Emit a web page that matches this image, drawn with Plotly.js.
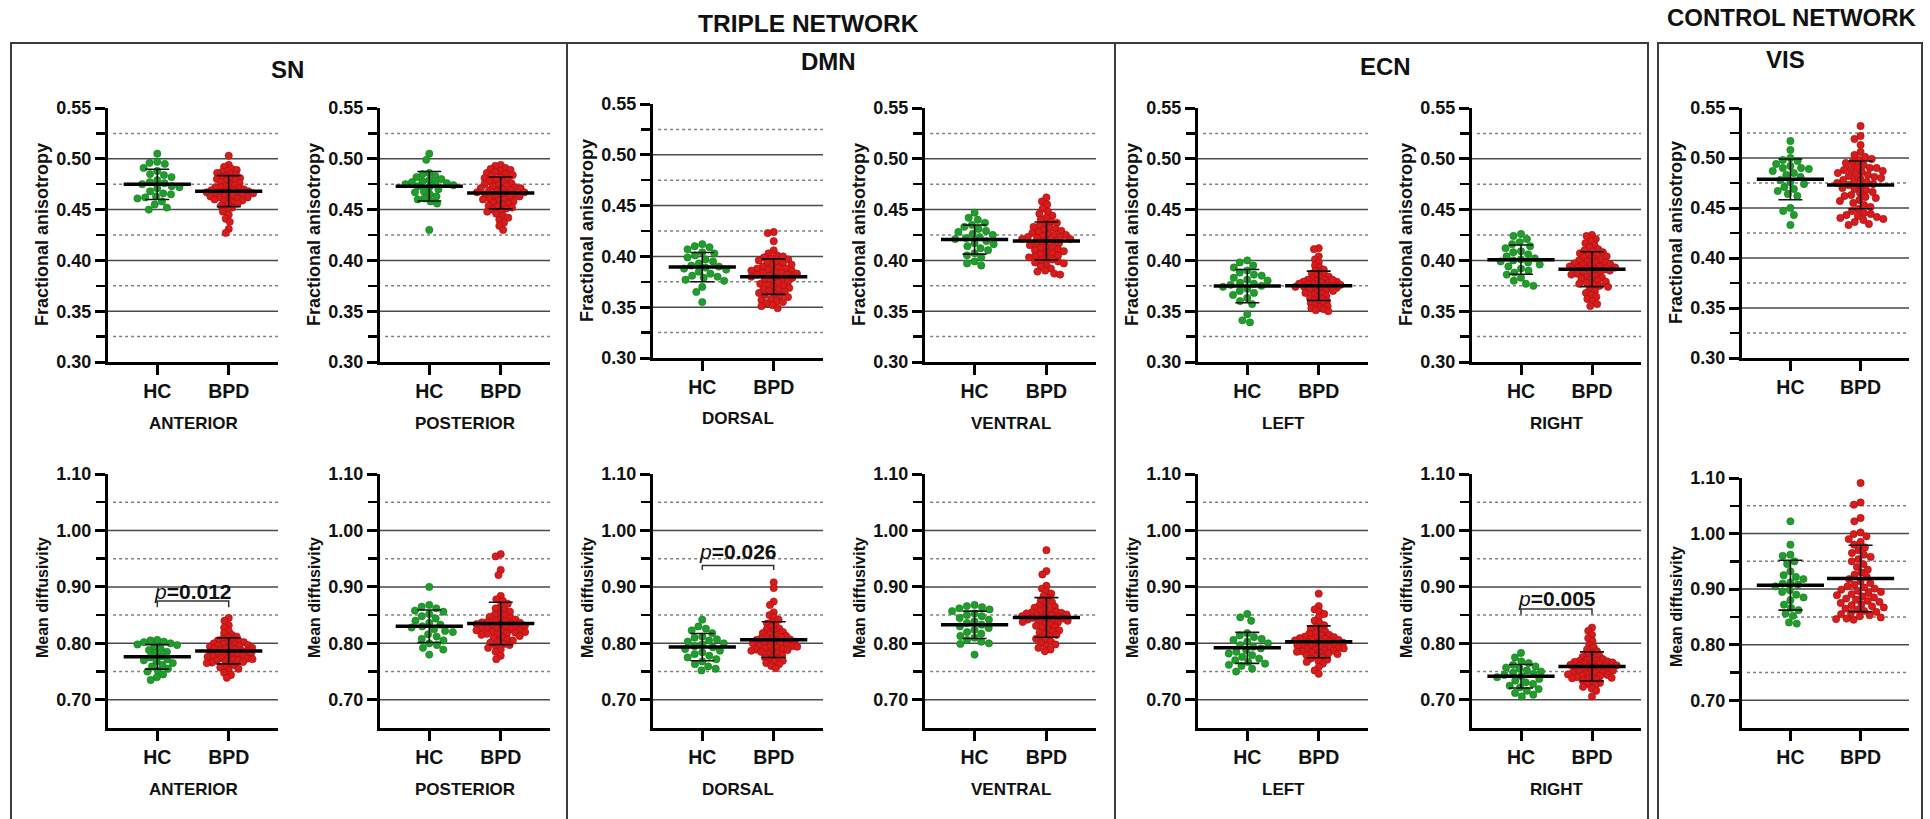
<!DOCTYPE html>
<html><head><meta charset="utf-8">
<script src="https://cdn.plot.ly/plotly-3.0.1.min.js"></script>
<style>html,body{margin:0;padding:0;background:#fff}#chart{width:1930px;height:819px}</style>
</head><body><div id="chart"></div>
<script>
// ---------- categories / labels ----------
const groups = ['HC', 'BPD'];
const regions = ['ANTERIOR', 'POSTERIOR', 'DORSAL', 'VENTRAL', 'LEFT', 'RIGHT', ''];
const networkTitles = ['SN', 'DMN', 'ECN', 'VIS'];
const sectionTitles = ['TRIPLE NETWORK', 'CONTROL NETWORK'];
const faTitle = 'Fractional anisotropy';
const mdTitle = 'Mean diffusivity';
const faTickVals = [0.30, 0.35, 0.40, 0.45, 0.50, 0.55];
const faTickText = ['0.30', '0.35', '0.40', '0.45', '0.50', '0.55'];
const faMinor = [0.325, 0.375, 0.425, 0.475, 0.525];
const mdTickVals = [0.70, 0.80, 0.90, 1.00, 1.10];
const mdTickText = ['0.70', '0.80', '0.90', '1.00', '1.10'];
const mdMinor = [0.75, 0.85, 0.95, 1.05];

// ---------- Fractional anisotropy ----------
const fa_SN_ant_HC = [0.505,0.497,0.496,0.495,0.491,0.488,0.485,0.484,0.482,0.479,0.477,0.476,0.475,0.473,0.472,0.471,0.468,0.466,0.465,0.463,0.462,0.461,0.458,0.455,0.452,0.450];
const fa_SN_ant_BPD = [0.503,0.494,0.492,0.490,0.489,0.488,0.487,0.486,0.485,0.484,0.483,0.482,0.481,0.480,0.480,0.479,0.478,0.477,0.476,0.475,0.474,0.473,0.472,0.472,0.471,0.470,0.470,0.469,0.469,0.468,0.468,0.467,0.467,0.466,0.466,0.465,0.465,0.464,0.464,0.463,0.463,0.462,0.462,0.461,0.460,0.460,0.459,0.458,0.457,0.456,0.455,0.454,0.452,0.450,0.448,0.445,0.441,0.438,0.431,0.427];
const fa_SN_post_HC = [0.505,0.499,0.486,0.485,0.483,0.482,0.480,0.479,0.478,0.477,0.476,0.476,0.475,0.474,0.473,0.472,0.470,0.468,0.467,0.465,0.463,0.461,0.460,0.458,0.456,0.430];
const fa_SN_post_BPD = [0.494,0.493,0.491,0.490,0.489,0.488,0.487,0.486,0.485,0.484,0.483,0.482,0.481,0.480,0.479,0.478,0.477,0.476,0.475,0.474,0.473,0.473,0.472,0.471,0.471,0.470,0.469,0.469,0.468,0.467,0.467,0.466,0.465,0.465,0.464,0.463,0.463,0.462,0.461,0.460,0.460,0.459,0.458,0.457,0.456,0.455,0.454,0.453,0.452,0.451,0.450,0.449,0.448,0.446,0.444,0.442,0.440,0.437,0.434,0.430];
const fa_DMN_dor_HC = [0.412,0.410,0.409,0.407,0.404,0.403,0.401,0.399,0.397,0.395,0.393,0.391,0.390,0.389,0.388,0.387,0.385,0.383,0.381,0.380,0.379,0.377,0.376,0.370,0.365,0.355];
const fa_DMN_dor_BPD = [0.424,0.423,0.415,0.406,0.403,0.401,0.400,0.399,0.398,0.397,0.396,0.395,0.394,0.393,0.392,0.391,0.390,0.389,0.388,0.388,0.387,0.386,0.386,0.385,0.384,0.384,0.383,0.382,0.382,0.381,0.380,0.380,0.379,0.378,0.377,0.376,0.375,0.374,0.373,0.372,0.371,0.370,0.369,0.368,0.367,0.366,0.365,0.364,0.363,0.362,0.361,0.360,0.358,0.357,0.356,0.355,0.354,0.352,0.351,0.349];
const fa_DMN_ven_HC = [0.447,0.442,0.440,0.437,0.435,0.433,0.431,0.429,0.428,0.426,0.425,0.423,0.422,0.421,0.419,0.417,0.416,0.414,0.412,0.410,0.407,0.405,0.403,0.399,0.397,0.395];
const fa_DMN_ven_BPD = [0.462,0.458,0.455,0.451,0.448,0.446,0.444,0.442,0.440,0.438,0.437,0.436,0.434,0.433,0.432,0.431,0.430,0.429,0.428,0.427,0.426,0.425,0.425,0.424,0.423,0.423,0.422,0.421,0.421,0.420,0.419,0.418,0.417,0.416,0.415,0.414,0.413,0.412,0.411,0.410,0.409,0.408,0.407,0.406,0.405,0.404,0.403,0.402,0.401,0.400,0.399,0.398,0.397,0.396,0.394,0.392,0.390,0.389,0.387,0.386];
const fa_ECN_left_HC = [0.400,0.398,0.395,0.393,0.390,0.388,0.386,0.385,0.383,0.381,0.380,0.378,0.377,0.376,0.375,0.374,0.372,0.370,0.368,0.366,0.363,0.360,0.357,0.347,0.341,0.339];
const fa_ECN_left_BPD = [0.412,0.411,0.404,0.401,0.398,0.395,0.393,0.391,0.390,0.388,0.387,0.386,0.385,0.384,0.383,0.382,0.381,0.381,0.380,0.379,0.379,0.378,0.378,0.377,0.377,0.376,0.376,0.375,0.375,0.374,0.374,0.373,0.373,0.372,0.372,0.371,0.370,0.370,0.369,0.368,0.367,0.366,0.365,0.364,0.363,0.362,0.361,0.360,0.359,0.358,0.357,0.356,0.355,0.354,0.353,0.352,0.351,0.350,0.381,0.376];
const fa_ECN_right_HC = [0.426,0.424,0.421,0.418,0.416,0.414,0.412,0.409,0.408,0.406,0.404,0.402,0.401,0.400,0.399,0.398,0.396,0.394,0.392,0.390,0.388,0.386,0.383,0.380,0.377,0.375];
const fa_ECN_right_BPD = [0.425,0.424,0.421,0.419,0.417,0.415,0.413,0.411,0.410,0.409,0.408,0.407,0.406,0.405,0.404,0.403,0.402,0.401,0.400,0.399,0.398,0.398,0.397,0.396,0.396,0.395,0.394,0.394,0.393,0.393,0.392,0.391,0.391,0.390,0.389,0.388,0.388,0.387,0.386,0.385,0.384,0.383,0.382,0.381,0.380,0.379,0.378,0.377,0.376,0.375,0.374,0.372,0.370,0.368,0.366,0.364,0.362,0.360,0.357,0.355];
const fa_VIS_HC = [0.517,0.508,0.500,0.498,0.497,0.494,0.492,0.490,0.490,0.489,0.487,0.485,0.483,0.481,0.478,0.476,0.474,0.471,0.469,0.467,0.464,0.462,0.450,0.447,0.443,0.433];
const fa_VIS_BPD = [0.532,0.522,0.519,0.513,0.506,0.503,0.501,0.499,0.498,0.496,0.495,0.493,0.491,0.490,0.490,0.489,0.488,0.487,0.486,0.485,0.484,0.483,0.482,0.481,0.480,0.479,0.478,0.477,0.476,0.475,0.474,0.473,0.472,0.470,0.469,0.468,0.466,0.465,0.463,0.462,0.460,0.458,0.457,0.455,0.453,0.451,0.449,0.447,0.445,0.444,0.443,0.442,0.441,0.440,0.439,0.438,0.436,0.434,0.433,0.461];

// ---------- Mean diffusivity ----------
const md_SN_ant_HC = [0.806,0.805,0.803,0.802,0.800,0.798,0.797,0.795,0.790,0.788,0.785,0.783,0.777,0.775,0.772,0.770,0.768,0.765,0.762,0.759,0.755,0.752,0.750,0.745,0.740,0.735];
const md_SN_ant_BPD = [0.845,0.840,0.832,0.828,0.822,0.818,0.815,0.812,0.810,0.808,0.806,0.805,0.804,0.802,0.801,0.800,0.799,0.798,0.797,0.796,0.795,0.794,0.793,0.792,0.791,0.790,0.789,0.788,0.787,0.786,0.785,0.784,0.783,0.782,0.781,0.780,0.779,0.778,0.777,0.776,0.775,0.774,0.773,0.772,0.771,0.770,0.769,0.768,0.767,0.766,0.765,0.763,0.761,0.759,0.757,0.755,0.752,0.748,0.744,0.739];
const md_SN_post_HC = [0.900,0.868,0.865,0.862,0.858,0.856,0.852,0.848,0.844,0.840,0.836,0.833,0.830,0.828,0.825,0.822,0.820,0.816,0.812,0.808,0.805,0.800,0.797,0.792,0.789,0.780];
const md_SN_post_BPD = [0.958,0.954,0.930,0.921,0.884,0.878,0.875,0.870,0.866,0.862,0.859,0.856,0.853,0.851,0.849,0.847,0.845,0.843,0.842,0.840,0.839,0.838,0.837,0.836,0.835,0.834,0.833,0.832,0.831,0.830,0.829,0.828,0.827,0.826,0.825,0.824,0.823,0.822,0.821,0.820,0.819,0.818,0.817,0.816,0.815,0.813,0.811,0.809,0.807,0.805,0.803,0.801,0.799,0.797,0.795,0.792,0.789,0.785,0.778,0.772];
const md_DMN_dor_HC = [0.842,0.830,0.826,0.823,0.818,0.812,0.810,0.807,0.805,0.803,0.800,0.798,0.795,0.793,0.790,0.787,0.784,0.781,0.778,0.775,0.772,0.768,0.763,0.759,0.755,0.752];
const md_DMN_dor_BPD = [0.908,0.898,0.874,0.868,0.855,0.850,0.846,0.842,0.838,0.835,0.832,0.829,0.826,0.824,0.822,0.820,0.818,0.816,0.814,0.813,0.811,0.810,0.809,0.808,0.807,0.806,0.805,0.804,0.803,0.802,0.801,0.800,0.799,0.798,0.797,0.796,0.795,0.794,0.793,0.792,0.791,0.790,0.789,0.788,0.787,0.786,0.785,0.783,0.781,0.779,0.777,0.775,0.773,0.771,0.769,0.767,0.765,0.763,0.760,0.756];
const md_DMN_ven_HC = [0.868,0.866,0.864,0.862,0.860,0.857,0.853,0.850,0.848,0.845,0.842,0.839,0.836,0.833,0.830,0.827,0.824,0.820,0.817,0.813,0.810,0.806,0.803,0.800,0.799,0.780];
const md_DMN_ven_BPD = [0.965,0.928,0.922,0.902,0.897,0.892,0.888,0.884,0.880,0.876,0.873,0.870,0.867,0.865,0.863,0.861,0.859,0.857,0.856,0.855,0.854,0.853,0.852,0.851,0.850,0.849,0.848,0.847,0.846,0.845,0.844,0.843,0.842,0.841,0.840,0.839,0.838,0.837,0.835,0.833,0.831,0.829,0.827,0.825,0.823,0.821,0.819,0.817,0.815,0.812,0.810,0.808,0.805,0.803,0.800,0.798,0.795,0.792,0.789,0.786];
const md_ECN_left_HC = [0.852,0.846,0.840,0.818,0.814,0.811,0.808,0.806,0.803,0.800,0.797,0.794,0.791,0.788,0.785,0.782,0.779,0.776,0.773,0.770,0.767,0.764,0.762,0.760,0.755,0.750];
const md_ECN_left_BPD = [0.888,0.866,0.860,0.856,0.852,0.846,0.840,0.836,0.832,0.829,0.826,0.823,0.821,0.819,0.817,0.815,0.814,0.812,0.811,0.810,0.809,0.808,0.807,0.806,0.805,0.804,0.803,0.802,0.801,0.800,0.799,0.798,0.797,0.796,0.795,0.794,0.793,0.792,0.791,0.790,0.789,0.788,0.787,0.786,0.785,0.784,0.783,0.782,0.781,0.779,0.777,0.775,0.773,0.771,0.769,0.767,0.764,0.758,0.752,0.746];
const md_ECN_right_HC = [0.783,0.775,0.768,0.765,0.762,0.759,0.757,0.755,0.752,0.750,0.748,0.746,0.744,0.742,0.740,0.737,0.734,0.731,0.728,0.725,0.722,0.719,0.716,0.712,0.709,0.706];
const md_ECN_right_BPD = [0.828,0.822,0.815,0.809,0.804,0.797,0.793,0.789,0.786,0.783,0.780,0.778,0.776,0.774,0.772,0.771,0.770,0.769,0.768,0.767,0.766,0.765,0.764,0.763,0.762,0.761,0.760,0.759,0.758,0.757,0.756,0.755,0.754,0.753,0.752,0.751,0.750,0.749,0.748,0.747,0.746,0.745,0.744,0.743,0.742,0.741,0.740,0.739,0.738,0.737,0.736,0.734,0.732,0.730,0.728,0.726,0.723,0.720,0.716,0.706];
const md_VIS_HC = [1.022,0.980,0.962,0.960,0.950,0.945,0.932,0.925,0.922,0.918,0.912,0.910,0.908,0.905,0.898,0.895,0.890,0.885,0.880,0.872,0.866,0.862,0.856,0.852,0.840,0.838];
const md_VIS_BPD = [1.091,1.056,1.052,1.028,1.022,1.002,0.999,0.995,0.990,0.985,0.980,0.975,0.970,0.965,0.962,0.958,0.954,0.950,0.945,0.940,0.935,0.930,0.926,0.922,0.918,0.914,0.911,0.908,0.905,0.903,0.901,0.899,0.897,0.895,0.893,0.891,0.889,0.887,0.885,0.883,0.881,0.879,0.877,0.875,0.873,0.871,0.869,0.867,0.865,0.863,0.861,0.859,0.857,0.855,0.853,0.851,0.849,0.847,0.846,0.845];

// significance labels
const pLabels = ['0.012', '0.026', '0.005'];
const pPanels = [7, 9, 12];
const pBracketY = [0.875, 0.938, 0.861];
const pLegY = [0.864, 0.930, 0.851];
const pTextY = [0.892, 0.963, 0.879];

// ---------- layout geometry (pixels) ----------
const W = 1930, H = 819;
const colX = [[108,278],[380,550],[653,823],[925,1096],[1198,1368],[1472,1641],[1742,1909]];
const row1Y = [[108,362],[108,362],[104,358],[108,362],[108,362],[108,362],[108,358]];
const row2Y = [[474,728],[474,728],[474,728],[474,728],[474,728],[474,728],[478,728]];
const XR = [-0.69, 1.69];
const FONT = 'Liberation Sans, Arial, Helvetica, sans-serif';
const GREEN = '#1f9e2b', GREEN_EDGE = '#167a1f';
const RED = '#d81b1b', RED_EDGE = '#a50f0f';

const faSets = [[fa_SN_ant_HC,fa_SN_ant_BPD],[fa_SN_post_HC,fa_SN_post_BPD],[fa_DMN_dor_HC,fa_DMN_dor_BPD],[fa_DMN_ven_HC,fa_DMN_ven_BPD],[fa_ECN_left_HC,fa_ECN_left_BPD],[fa_ECN_right_HC,fa_ECN_right_BPD],[fa_VIS_HC,fa_VIS_BPD]];
const mdSets = [[md_SN_ant_HC,md_SN_ant_BPD],[md_SN_post_HC,md_SN_post_BPD],[md_DMN_dor_HC,md_DMN_dor_BPD],[md_DMN_ven_HC,md_DMN_ven_BPD],[md_ECN_left_HC,md_ECN_left_BPD],[md_ECN_right_HC,md_ECN_right_BPD],[md_VIS_HC,md_VIS_BPD]];

function mean(a){ return a.reduce((s,v)=>s+v,0)/a.length; }
function sd(a){ const m=mean(a); return Math.sqrt(a.reduce((s,v)=>s+(v-m)*(v-m),0)/(a.length-1)); }

// beeswarm in pixel space
function swarmOnce(vals, pxPerVal, d){
  const idx = vals.map((v,i)=>i).sort((a,b)=>vals[b]-vals[a]);
  const placed = []; const out = new Array(vals.length);
  for (const i of idx){
    const y = vals[i]*pxPerVal; const ivs = []; const cands=[0];
    for (const p of placed){
      const dy = Math.abs(p.y-y);
      if (dy < d){ const dx=Math.sqrt(d*d-dy*dy); ivs.push([p.x-dx,p.x+dx]); cands.push(p.x-dx-0.01, p.x+dx+0.01); }
    }
    cands.sort((a,b)=>Math.abs(a)-Math.abs(b) || a-b);
    let best=0;
    for (const c of cands){ if (ivs.every(iv=>c<=iv[0]||c>=iv[1])){ best=c; break; } }
    out[i]=best; placed.push({x:best,y});
  }
  return out;
}
function swarm(vals, pxPerVal){
  let d = 7.8, res;
  while (true){ res = swarmOnce(vals, pxPerVal, d); const mx = Math.max(...res.map(Math.abs)); if (mx <= 25 || d <= 3) break; d -= 0.25; }
  return res;
}

const traces = [], shapes = [], annotations = [];
const layout = {width: W, height: H, margin:{l:0,r:0,t:0,b:0}, paper_bgcolor:'#fff', plot_bgcolor:'rgba(0,0,0,0)', showlegend:false, font:{family:FONT, color:'#111'}};

function ann(text, px, py, size, extra){
  annotations.push(Object.assign({text, x:px/W, y:1-py/H, xref:'paper', yref:'paper', showarrow:false, xanchor:'center', yanchor:'middle', font:{family:FONT, size, color:'#111', weight:'bold'}}, extra||{}));
}

for (let k=0;k<14;k++){
  const row = k<7?0:1, col = k%7, n = k+1;
  const xs = n===1?'':String(n);
  const [x0,x1] = colX[col];
  const [yt,yb] = row===0?row1Y[col]:row2Y[col];
  const yr = row===0?[0.30,0.55]:[0.65,1.10];
  const tv = row===0?faTickVals:mdTickVals, tt = row===0?faTickText:mdTickText, mn = row===0?faMinor:mdMinor;
  const sets = row===0?faSets[col]:mdSets[col];
  const pxPerUnit = (x1-x0)/(XR[1]-XR[0]);
  const pxPerVal = (yb-yt)/(yr[1]-yr[0]);

  layout['xaxis'+xs] = {domain:[x0/W,x1/W], range:XR, anchor:'y'+xs, tickmode:'array', tickvals:[0,1], ticktext:groups,
    showline:true, linewidth:3, linecolor:'#000', ticks:'outside', ticklen:10, tickwidth:3, tickcolor:'#000',
    tickfont:{family:FONT,size:19.5,color:'#111',weight:'bold'}, showgrid:false, zeroline:false, fixedrange:true};
  layout['yaxis'+xs] = {domain:[1-yb/H,1-yt/H], range:yr, anchor:'x'+xs, tickmode:'array', tickvals:tv, ticktext:tt,
    showline:true, linewidth:3, linecolor:'#000', ticks:'outside', ticklen:10, tickwidth:3, tickcolor:'#000',
    minor:{tickmode:'array', tickvals:mn, ticks:'outside', ticklen:9, tickwidth:2.5, tickcolor:'#000', showgrid:false},
    tickfont:{family:FONT,size:18,color:'#111',weight:'bold'}, showgrid:false, zeroline:false, fixedrange:true};

  // gridlines
  tv.filter(v=>v>yr[0]+1e-6 && v<yr[1]-1e-6).forEach(v=>shapes.push({type:'line', xref:'x'+xs+' domain', yref:'y'+xs, x0:0, x1:1, y0:v, y1:v, layer:'below', line:{color:'#4a4a4a', width:1.5}}));
  mn.forEach(v=>shapes.push({type:'line', xref:'x'+xs+' domain', yref:'y'+xs, x0:0.03, x1:1, y0:v, y1:v, layer:'below', line:{color:'#808080', width:1.5, dash:'dot'}}));

  // points
  sets.forEach((vals,g)=>{
    const off = swarm(vals, pxPerVal);
    traces.push({type:'scatter', mode:'markers', xaxis:'x'+xs, yaxis:'y'+xs, x:vals.map((v,i)=>g+off[i]/pxPerUnit), y:vals,
      marker:{size:7.3, color:g===0?GREEN:RED, line:{width:0.6, color:g===0?GREEN_EDGE:RED_EDGE}}, hoverinfo:'y'});
  });
  // mean +/- SD
  traces.push({type:'scatter', mode:'markers', xaxis:'x'+xs, yaxis:'y'+xs, x:[0,1], y:sets.map(mean),
    marker:{symbol:'line-ew', size:48, color:'#000', line:{width:3.5, color:'#000'}},
    error_y:{type:'data', array:sets.map(sd), visible:true, width:12, thickness:1.6, color:'#111'}, hoverinfo:'skip'});

  // y title
  ann(row===0?faTitle:mdTitle, x0-66, (yt+yb)/2 + (row===0?0:(col===6?4:-3)), row===0?18:16, {textangle:-90});
  // region label
  if (regions[col]) ann(regions[col], x0 + (0.5-XR[0])*pxPerUnit, yb+61, 17);
}

// significance brackets
pPanels.forEach((k,i)=>{
  const n=k+1, xs=String(n);
  shapes.push({type:'path', xref:'x'+xs, yref:'y'+xs, path:`M0,${pLegY[i]} L0,${pBracketY[i]} L1,${pBracketY[i]} L1,${pLegY[i]}`, line:{color:'#333', width:1.5}});
  annotations.push({text:'<i>p</i><b>='+pLabels[i]+'</b>', xref:'x'+xs, yref:'y'+xs, x:0.5, y:pTextY[i], showarrow:false, xanchor:'center', yanchor:'middle', font:{family:FONT, size:21, color:'#111'}});
});

// frames
const fr = {color:'#3c3c3c', width:2};
shapes.push({type:'rect', xref:'paper', yref:'paper', x0:11/W, x1:1648/W, y0:-0.02, y1:1-43/H, line:fr});
shapes.push({type:'line', xref:'paper', yref:'paper', x0:567/W, x1:567/W, y0:-0.02, y1:1-43/H, line:fr});
shapes.push({type:'line', xref:'paper', yref:'paper', x0:1115/W, x1:1115/W, y0:-0.02, y1:1-43/H, line:fr});
shapes.push({type:'rect', xref:'paper', yref:'paper', x0:1658/W, x1:1922/W, y0:-0.02, y1:1-43/H, line:fr});

// titles
ann(sectionTitles[0], 808, 23, 24.5);
ann(sectionTitles[1], 1792, 17, 24);
ann(networkTitles[0], 287, 69, 24);
ann(networkTitles[1], 828, 62, 24);
ann(networkTitles[2], 1385, 66, 24);
ann(networkTitles[3], 1785, 60, 24);

layout.shapes = shapes;
layout.annotations = annotations;
Plotly.newPlot('chart', traces, layout, {staticPlot:true, displayModeBar:false});
</script></body></html>
